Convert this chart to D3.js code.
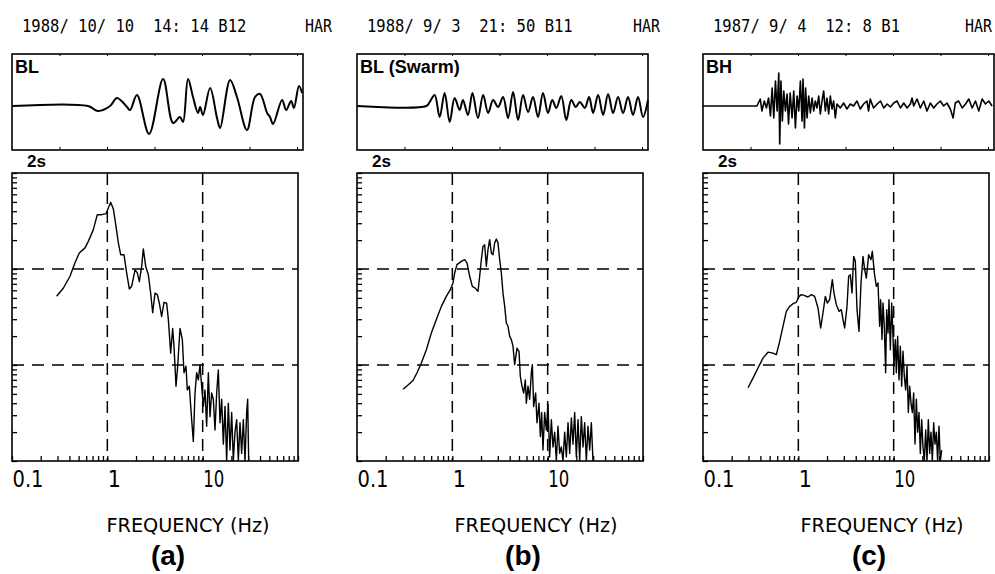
<!DOCTYPE html>
<html>
<head>
<meta charset="utf-8">
<script src="https://cdn.jsdelivr.net/npm/d3@7"></script>
<style>
  body { margin: 0; background: #fff; }
  svg { display: block; }
</style>
</head>
<body>
<div id="chart"></div>
<script>
var outerWidth  = 995;
var outerHeight = 574;

// ---- data ----
var headerDates   = ["1988/ 10/ 10  14: 14 B12", "1988/ 9/ 3  21: 50 B11", "1987/ 9/ 4  12: 8 B1"];
var headerStation = ["HAR", "HAR", "HAR"];
var waveLabels    = ["BL", "BL (Swarm)", "BH"];
var panelLetters  = ["(a)", "(b)", "(c)"];
var timeMarkLabel = "2s";
var freqTickValues = [0.1, 1, 10];
var freqTickLabels = ["0.1", "1", "10"];
var gridFreqs = [1, 10];
var gridAmps  = [0.1, 0.01];
var axisTitle = "FREQUENCY (Hz)";

// waveforms: time (s) and amplitude (counts)
var waveTimeA = [0, 3.2, 3.62, 4.13, 4.42, 4.84, 4.97, 5.26, 5.77, 6.36, 6.78, 7.07, 7.2, 7.41, 7.62, 7.83, 7.92, 8.04, 8.34, 8.63, 8.76, 9.18, 9.47, 9.89, 10.23, 10.44, 10.74, 10.86, 10.99, 11.37, 11.54, 11.75, 11.87, 12.08, 12.21];
var waveAmpA  = [0, 0, -5, 0, 8, -1, -4, 11, -28, 27, -17, -11, -16, 27, 9, -7, -1, -9, 18, -12, -22, 26, 9, -24, 9, 12, -7, -11, -18, 6, -4, 5, -2, 20, 13];

var waveTimeB = [0, 2.92, 3.06, 3.27, 3.48, 3.69, 3.9, 4.11, 4.32, 4.46, 4.67, 4.86, 5.09, 5.31, 5.52, 5.73, 5.94, 6.15, 6.36, 6.57, 6.78, 6.99, 7.2, 7.41, 7.62, 7.83, 8.04, 8.22, 8.39, 8.6, 8.81, 9.02, 9.21, 9.38, 9.59, 9.77, 9.94, 10.15, 10.36, 10.57, 10.78, 10.99, 11.2, 11.41, 11.62, 11.83, 12.04, 12.25];
var waveAmpB  = [0, 0, 4, 11, -11, 13, -16, 8, -4, 6, -9, 13, -12, 11, -7, 6, -1, 9, -12, 14, -14, 11, -6, 9, -11, 13, -7, 6, -2, 10, -14, 6, -1, 4, -2, 9, -7, 11, -9, 12, -7, 9, -7, 9, -9, 9, -11, 6];

var waveTimeC = [0, 2.27, 2.41, 2.48, 2.58, 2.67, 2.76, 2.84, 2.91, 2.98, 3.05, 3.12, 3.19, 3.23, 3.28, 3.34, 3.4, 3.47, 3.54, 3.6, 3.67, 3.75, 3.82, 3.89, 3.96, 4.03, 4.1, 4.17, 4.21, 4.27, 4.32, 4.38, 4.45, 4.52, 4.59, 4.66, 4.73, 4.8, 4.87, 4.94, 5.01, 5.08, 5.15, 5.22, 5.29, 5.36, 5.43, 5.5, 5.57, 5.64, 5.78, 5.92, 6.06, 6.2, 6.34, 6.48, 6.62, 6.76, 6.9, 6.97, 7.04, 7.18, 7.33, 7.47, 7.61, 7.75, 7.89, 8.03, 8.17, 8.31, 8.45, 8.59, 8.73, 8.8, 8.87, 9.01, 9.15, 9.29, 9.43, 9.57, 9.71, 9.85, 9.99, 10.13, 10.27, 10.41, 10.53, 10.62, 10.76, 10.91, 11.05, 11.19, 11.33, 11.47, 11.61, 11.75, 11.89, 12.03, 12.17];
var waveAmpC  = [0, 0, 7, -5, 5, -2, 8, -10, 18, -12, 25, -5, 33, -38, 25, -15, 15, -5, 12, -18, 13, -12, 15, -22, 10, -5, 25, -15, 27, -22, 18, -12, 10, -7, 8, -5, 5, -2, 10, -8, 5, 15, -5, 8, -8, 10, -3, 5, -12, 2, -2, 3, -3, 2, 0, 5, -3, 2, 5, -5, 7, -2, 2, 5, -2, 2, -1, 3, 5, -2, 3, -2, 2, 8, 0, 7, -2, 5, -5, 3, -2, 2, 5, 0, 3, -3, -12, 3, 5, -2, 2, 7, -2, 5, -5, 7, 2, 5, 0];

// spectra: frequency (Hz) and relative amplitude
var specFreqA = [0.294, 0.345, 0.406, 0.458, 0.508, 0.583, 0.632, 0.713, 0.785, 0.872, 0.968, 1.024, 1.084, 1.156, 1.233, 1.305, 1.38, 1.495, 1.595, 1.701, 1.8, 1.951, 2.064, 2.166, 2.292, 2.386, 2.524, 2.692, 2.848, 2.989, 3.162, 3.346, 3.511, 3.714, 3.929, 4.19, 4.364, 4.617, 4.845, 5.004, 5.252, 5.468, 5.784, 6.119, 6.37, 6.685, 6.904, 7.245, 7.665, 7.98, 8.31, 8.65, 9.01, 9.38, 9.76, 10.16, 10.58, 11.01, 11.47, 11.94, 12.43, 12.94, 13.47, 14.03, 14.6, 15.2, 15.83, 16.48, 17.15, 17.85, 18.59, 19.35, 20.15, 20.97, 21.83, 22.73, 23.66, 24.64, 25.65, 26.7, 27.8, 28.94, 29.65, 30.38];
var specAmpA  = [0.052, 0.063, 0.084, 0.116, 0.147, 0.166, 0.194, 0.257, 0.368, 0.368, 0.377, 0.432, 0.495, 0.422, 0.278, 0.187, 0.141, 0.141, 0.091, 0.062, 0.066, 0.098, 0.091, 0.074, 0.107, 0.162, 0.107, 0.087, 0.056, 0.035, 0.056, 0.054, 0.044, 0.032, 0.045, 0.044, 0.03, 0.0133, 0.024, 0.0157, 0.006, 0.0097, 0.024, 0.0184, 0.0083, 0.0097, 0.0055, 0.006, 0.0027, 0.0016, 0.0051, 0.0083, 0.007, 0.0101, 0.006, 0.0037, 0.0055, 0.0023, 0.0083, 0.0029, 0.0051, 0.0044, 0.0021, 0.0051, 0.0089, 0.0025, 0.0044, 0.0015, 0.0037, 0.001, 0.004, 0.0013, 0.0032, 0.001, 0.002, 0.0027, 0.001, 0.0025, 0.0012, 0.0027, 0.001, 0.0032, 0.0044, 0.001];

var specFreqB = [0.304, 0.343, 0.387, 0.426, 0.473, 0.534, 0.602, 0.68, 0.767, 0.865, 0.953, 1.016, 1.058, 1.119, 1.243, 1.347, 1.425, 1.52, 1.621, 1.743, 1.859, 1.935, 2.015, 2.097, 2.183, 2.273, 2.366, 2.464, 2.565, 2.67, 2.78, 2.894, 3.013, 3.137, 3.266, 3.4, 3.54, 3.685, 3.837, 3.994, 4.158, 4.329, 4.507, 4.768, 5.004, 5.168, 5.381, 5.602, 5.831, 5.974, 6.219, 6.474, 6.74, 6.904, 7.13, 7.482, 7.727, 8.11, 8.38, 8.65, 8.93, 9.3, 9.68, 10.08, 10.49, 10.93, 11.37, 11.84, 12.33, 12.83, 13.36, 13.91, 14.48, 15.08, 15.7, 16.35, 17.02, 17.72, 18.44, 19.2, 19.99, 20.81, 21.66, 22.55, 23.48, 24.44, 25.44, 26.49, 27.58, 28.71, 29.89];
var specAmpB  = [0.0056, 0.0062, 0.0069, 0.0083, 0.0105, 0.0144, 0.0215, 0.0297, 0.0408, 0.0519, 0.0609, 0.0715, 0.0908, 0.111, 0.12, 0.125, 0.116, 0.084, 0.066, 0.063, 0.0585, 0.084, 0.125, 0.172, 0.179, 0.107, 0.159, 0.202, 0.147, 0.141, 0.187, 0.205, 0.187, 0.125, 0.091, 0.056, 0.041, 0.0274, 0.0253, 0.0199, 0.0184, 0.0157, 0.0101, 0.015, 0.0139, 0.0076, 0.006, 0.0051, 0.007, 0.004, 0.006, 0.0044, 0.0083, 0.0101, 0.0037, 0.0051, 0.0025, 0.004, 0.0018, 0.0032, 0.0013, 0.0032, 0.0021, 0.0039, 0.0011, 0.0027, 0.0014, 0.002, 0.001, 0.0023, 0.0012, 0.0014, 0.001, 0.002, 0.0011, 0.0025, 0.0012, 0.0028, 0.0015, 0.0032, 0.0011, 0.0027, 0.001, 0.0029, 0.0014, 0.0025, 0.001, 0.0023, 0.0013, 0.0025, 0.001];

var specFreqC = [0.2965, 0.3346, 0.3775, 0.426, 0.4806, 0.5424, 0.5877, 0.637, 0.6904, 0.7483, 0.811, 0.879, 0.953, 1.016, 1.075, 1.165, 1.263, 1.369, 1.483, 1.608, 1.715, 1.814, 1.92, 2.015, 2.132, 2.273, 2.366, 2.504, 2.67, 2.825, 2.941, 3.062, 3.24, 3.373, 3.511, 3.655, 3.806, 3.962, 4.125, 4.329, 4.544, 4.768, 4.964, 5.168, 5.468, 5.784, 5.974, 6.269, 6.579, 6.849, 7.13, 7.304, 7.543, 7.727, 7.98, 8.24, 8.44, 8.72, 8.93, 9.23, 9.53, 9.84, 10.08, 10.41, 10.66, 11.01, 11.37, 11.75, 12.13, 12.53, 12.94, 13.36, 13.8, 14.25, 14.72, 15.2, 15.7, 16.21, 16.74, 17.29, 17.85, 18.44, 19.04, 19.67, 20.31, 20.97, 21.66, 22.37, 23.1, 23.86, 24.64, 25.44, 26.28, 27.13, 28.02, 28.94, 29.89, 30.87, 31.88];
var specAmpC  = [0.0058, 0.0073, 0.0093, 0.0118, 0.0136, 0.0133, 0.0128, 0.0176, 0.0253, 0.0362, 0.0408, 0.0435, 0.045, 0.0519, 0.054, 0.0528, 0.0511, 0.054, 0.0519, 0.0393, 0.0243, 0.0348, 0.0519, 0.0442, 0.0479, 0.0774, 0.0562, 0.0425, 0.0362, 0.0377, 0.0297, 0.0243, 0.0408, 0.0839, 0.0873, 0.0562, 0.1355, 0.1202, 0.0377, 0.0224, 0.0715, 0.1355, 0.0984, 0.0806, 0.141, 0.125, 0.153, 0.091, 0.066, 0.0715, 0.0253, 0.0479, 0.0184, 0.0442, 0.0253, 0.0083, 0.0377, 0.0215, 0.0479, 0.0144, 0.0442, 0.0199, 0.0097, 0.0184, 0.0083, 0.0199, 0.0070, 0.0157, 0.006, 0.0139, 0.0076, 0.0055, 0.0097, 0.0032, 0.006, 0.004, 0.0032, 0.0051, 0.0015, 0.0044, 0.002, 0.0032, 0.0012, 0.0027, 0.0014, 0.001, 0.0021, 0.001, 0.0027, 0.0012, 0.002, 0.001, 0.0025, 0.0015, 0.002, 0.001, 0.0023, 0.001, 0.0013];

// ---- layout (pixels) ----
var panelLeft  = [12, 357, 703];
var stationX   = [305, 633, 965];
var titleX     = [188, 536, 882];
var letterX    = [168, 523, 869];
var waveTop = 54, waveW = 291, waveH = 96;
var specTop = 173, specW = 286, specH = 288;

var panels = [
  { wt: waveTimeA, wa: waveAmpA, sf: specFreqA, sa: specAmpA, smooth: true },
  { wt: waveTimeB, wa: waveAmpB, sf: specFreqB, sa: specAmpB, smooth: true },
  { wt: waveTimeC, wa: waveAmpC, sf: specFreqC, sa: specAmpC, smooth: false }
];

var monoFont   = "'DejaVu Sans Mono', 'Liberation Mono', monospace";
var narrowFont = "'Liberation Sans Narrow', 'DejaVu Sans Condensed', 'DejaVu Sans', sans-serif";
var boldFont   = "'Liberation Sans', Arial, sans-serif";
// label widths in the plotter font (pixels); single digit left as is
var tickLabelWidth = { "0.1": 31, "10": 21 };

var svg = d3.select("#chart").append("svg")
  .attr("width", outerWidth)
  .attr("height", outerHeight);

// shared scales
var tScale = d3.scaleLinear().domain([0, 12.25]).range([0, waveW]);
var aScale = d3.scaleLinear().domain([-44, 52]).range([waveH, 0]);
var xScale = d3.scaleLog().domain([0.1, 100]).range([0, specW]);
var yScale = d3.scaleLog().domain([0.001, 1]).range([specH, 0]);

panels.forEach(function (p, i) {
  var left = panelLeft[i];

  // header line
  svg.append("text")
    .attr("x", left + 10).attr("y", 32)
    .attr("font-family", monoFont).attr("font-size", 17)
    .attr("textLength", headerDates[i].length * 9.35)
    .attr("lengthAdjust", "spacingAndGlyphs")
    .style("white-space", "pre")
    .text(headerDates[i]);
  svg.append("text")
    .attr("x", stationX[i]).attr("y", 32)
    .attr("font-family", monoFont).attr("font-size", 17)
    .attr("textLength", 27).attr("lengthAdjust", "spacingAndGlyphs")
    .text(headerStation[i]);

  // ---- waveform ----
  var gw = svg.append("g").attr("transform", "translate(" + left + "," + waveTop + ")");

  var wave = p.wt.map(function (t, k) { return { t: t, a: p.wa[k] }; });
  var waveLine = d3.line()
    .x(function (d) { return tScale(d.t); })
    .y(function (d) { return aScale(d.a); })
    .curve(p.smooth ? d3.curveCatmullRom.alpha(0.5) : d3.curveLinear);

  gw.append("path").datum(wave)
    .attr("d", waveLine)
    .attr("fill", "none").attr("stroke", "#000")
    .attr("stroke-width", p.smooth ? 2 : 1.6)
    .attr("stroke-linejoin", "round");

  gw.append("rect")
    .attr("width", waveW).attr("height", waveH)
    .attr("fill", "none").attr("stroke", "#000").attr("stroke-width", 1.6);

  // 2 s marks along top and bottom edges
  var tTicks = d3.range(2, 12.25, 2);
  gw.append("g").attr("transform", "translate(0," + waveH + ")")
    .call(d3.axisTop(tScale).tickValues(tTicks).tickSize(3).tickFormat(""))
    .call(function (g) { g.select(".domain").remove(); });
  gw.append("g")
    .call(d3.axisBottom(tScale).tickValues(tTicks).tickSize(2).tickFormat(""))
    .call(function (g) { g.select(".domain").remove(); });

  gw.append("text")
    .attr("x", 3).attr("y", 19)
    .attr("font-family", boldFont).attr("font-weight", "bold").attr("font-size", 18)
    .text(waveLabels[i]);

  svg.append("text")
    .attr("x", left + 15).attr("y", 167)
    .attr("font-family", boldFont).attr("font-weight", "bold").attr("font-size", 17)
    .text(timeMarkLabel);

  // ---- spectrum ----
  var gs = svg.append("g").attr("transform", "translate(" + left + "," + specTop + ")");

  gs.append("clipPath").attr("id", "clip" + i)
    .append("rect").attr("width", specW).attr("height", specH);

  // dashed grid
  gs.selectAll(".vgrid").data(gridFreqs).enter().append("line")
    .attr("x1", function (d) { return xScale(d); })
    .attr("x2", function (d) { return xScale(d); })
    .attr("y1", 0).attr("y2", specH)
    .attr("stroke", "#000").attr("stroke-width", 1.5)
    .attr("stroke-dasharray", "12,7");
  gs.selectAll(".hgrid").data(gridAmps).enter().append("line")
    .attr("y1", function (d) { return yScale(d); })
    .attr("y2", function (d) { return yScale(d); })
    .attr("x1", 0).attr("x2", specW)
    .attr("stroke", "#000").attr("stroke-width", 1.5)
    .attr("stroke-dasharray", "12,8");

  var spec = p.sf.map(function (f, k) { return { f: f, a: p.sa[k] }; });
  var specLine = d3.line()
    .x(function (d) { return xScale(d.f); })
    .y(function (d) { return yScale(d.a); });

  gs.append("path").datum(spec)
    .attr("clip-path", "url(#clip" + i + ")")
    .attr("d", specLine)
    .attr("fill", "none").attr("stroke", "#000")
    .attr("stroke-width", 1.4).attr("stroke-linejoin", "round");

  // log minor ticks, pointing inwards
  gs.append("g").attr("transform", "translate(0," + specH + ")")
    .call(d3.axisTop(xScale).tickValues(xScale.ticks()).tickSize(5).tickFormat(""))
    .call(function (g) { g.select(".domain").remove(); });
  gs.append("g")
    .call(d3.axisRight(yScale).tickValues(yScale.ticks()).tickSize(5).tickFormat(""))
    .call(function (g) { g.select(".domain").remove(); });
  gs.selectAll(".tick line").attr("stroke-width", 1.3);

  gs.append("rect")
    .attr("width", specW).attr("height", specH)
    .attr("fill", "none").attr("stroke", "#000").attr("stroke-width", 1.6);

  // frequency labels
  gs.append("g").attr("transform", "translate(0," + specH + ")")
    .call(d3.axisBottom(xScale).tickValues(freqTickValues).tickSize(0)
      .tickFormat(function (d, k) { return freqTickLabels[k]; }))
    .call(function (g) {
      g.select(".domain").remove();
      g.selectAll("text")
        .attr("text-anchor", "start")
        .attr("dx", 0).attr("y", 26).attr("dy", 0)
        .attr("font-family", narrowFont)
        .attr("font-size", 23)
        .attr("fill", "#000")
        .attr("textLength", function (d, k) { return tickLabelWidth[freqTickLabels[k]] || null; })
        .attr("lengthAdjust", "spacingAndGlyphs");
    });

  svg.append("text")
    .attr("x", titleX[i]).attr("y", 532)
    .attr("text-anchor", "middle")
    .attr("font-family", narrowFont).attr("font-size", 19)
    .attr("textLength", 163).attr("lengthAdjust", "spacingAndGlyphs")
    .text(axisTitle);

  svg.append("text")
    .attr("x", letterX[i]).attr("y", 565)
    .attr("text-anchor", "middle")
    .attr("font-family", boldFont).attr("font-weight", "bold").attr("font-size", 28)
    .text(panelLetters[i]);
});
</script>
</body>
</html>
